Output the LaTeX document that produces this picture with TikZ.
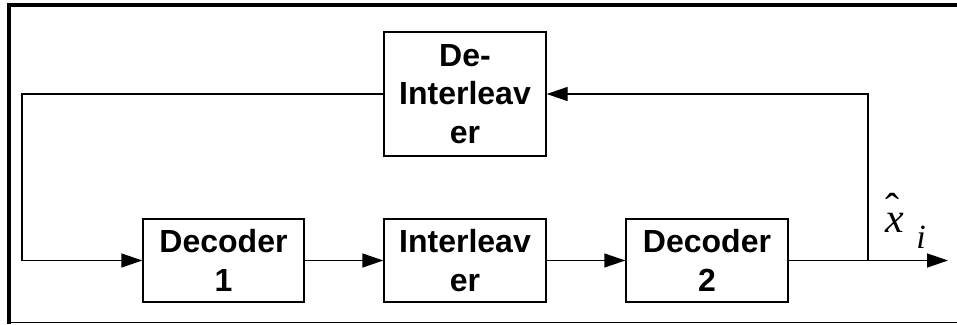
\documentclass[tikz,border=0pt]{standalone}
\usepackage{fontspec}
\setmainfont{Liberation Sans}
\newfontfamily\serifit{Liberation Serif}
\usetikzlibrary{arrows.meta}
\tikzset{
  blk/.style={draw, line width=1.4pt, minimum height=83pt, inner sep=0pt,
    align=center, font=\fontsize{32}{38.7}\selectfont\bfseries},
  conn/.style={line width=1.4pt},
  arr/.style={conn, -{Triangle[length=21pt,width=14pt]}},
  frame/.style={line width=4pt},
  lbl/.style={anchor=base, inner sep=0pt}
}
\begin{document}
\begin{tikzpicture}[x=1pt,y=-1pt]
\useasboundingbox (0,0) rectangle (957,324);
% frame
\draw[frame] (9,324) -- (9,5) -- (957,5);
\draw[line width=1.3pt] (7,322.5) -- (957,322.5);
% blocks
\node[blk, minimum width=161pt] (dec1) at (223.5,260.5) {Decoder\\1};
\node[blk, minimum width=162pt] (int) at (465,260.5) {Interleav\\er};
\node[blk, minimum width=162pt] (dec2) at (707,260.5) {Decoder\\2};
\node[blk, minimum width=162pt, minimum height=124pt] (deint) at (465,94) {De-\\Interleav\\er};
% coordinates
\coordinate (tap) at (868,260.5);
\coordinate (out) at (948,260.5);
\coordinate (tr) at (868,94);
\coordinate (tl) at (22,94);
\coordinate (bl) at (22,260.5);
% connectors
\draw[arr] (dec1.east) -- (int.west);
\draw[arr] (int.east) -- (dec2.west);
\draw[arr] (dec2.east) -- (out);
\draw[arr] (tap) -- (tr) -- (deint.east);
\draw[arr] (deint.west) -- (tl) -- (bl) -- (dec1.west);
% label
\node[lbl] (xhat) at (895,232) {\fontsize{42}{42}\selectfont\serifit\rlap{\raisebox{10pt}{\hspace{-0.5pt}\char"02C6}}\itshape x};
\node[lbl] (sub) at (921,248) {\fontsize{34}{34}\selectfont\serifit\itshape i};
\end{tikzpicture}
\end{document}
